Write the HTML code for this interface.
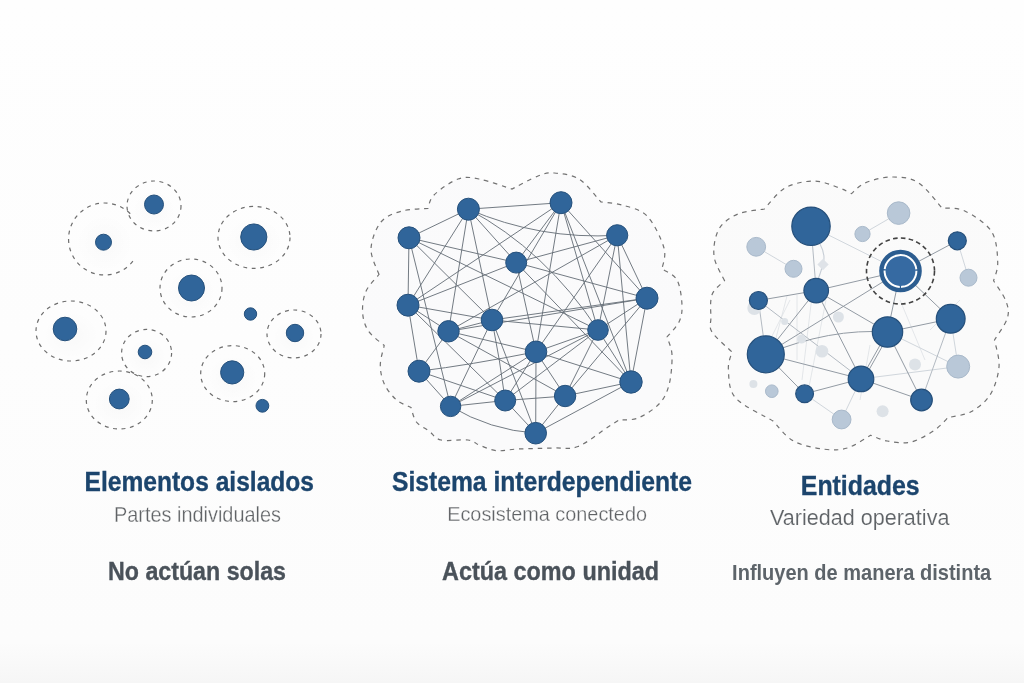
<!DOCTYPE html>
<html><head><meta charset="utf-8"><title>Sistema interdependiente</title>
<style>
html,body{margin:0;padding:0;width:1024px;height:683px;overflow:hidden;background:#fcfcfc;}
svg{display:block;font-family:"Liberation Sans",sans-serif;will-change:transform;}
</style></head><body>
<svg width="1024" height="683" viewBox="0 0 1024 683">
<defs>
<radialGradient id="sh" cx="50%" cy="50%" r="50%"><stop offset="0" stop-color="#000" stop-opacity="0.018"/><stop offset="1" stop-color="#000" stop-opacity="0"/></radialGradient>
<linearGradient id="bg" x1="0" y1="0" x2="0" y2="1"><stop offset="0" stop-color="#fefefe"/><stop offset="0.5" stop-color="#fdfdfd"/><stop offset="0.94" stop-color="#fcfcfc"/><stop offset="0.97" stop-color="#f9f9f9"/><stop offset="1" stop-color="#f6f6f6"/></linearGradient>
</defs>
<rect width="1024" height="683" fill="url(#bg)"/>
<ellipse cx="154.0" cy="210.0" rx="21.6" ry="20.0" fill="url(#sh)"/>
<ellipse cx="104.5" cy="243.0" rx="28.8" ry="28.8" fill="url(#sh)"/>
<ellipse cx="254.0" cy="241.4" rx="28.8" ry="24.8" fill="url(#sh)"/>
<ellipse cx="191.0" cy="292.0" rx="24.8" ry="23.2" fill="url(#sh)"/>
<ellipse cx="71.0" cy="335.0" rx="28.0" ry="24.0" fill="url(#sh)"/>
<ellipse cx="294.0" cy="338.0" rx="21.6" ry="19.2" fill="url(#sh)"/>
<ellipse cx="146.6" cy="357.0" rx="20.0" ry="18.9" fill="url(#sh)"/>
<ellipse cx="232.7" cy="377.6" rx="25.6" ry="22.4" fill="url(#sh)"/>
<ellipse cx="119.3" cy="404.0" rx="26.4" ry="23.2" fill="url(#sh)"/>
<g fill="none" stroke="#6e6e6e" stroke-width="1.2" stroke-dasharray="3.9 4.6">
<ellipse cx="154.0" cy="206.0" rx="27.0" ry="25.0"/>
<path d="M132.9,261.2 A36.0,36.0 0 1 1 132.9,216.8"/>
<ellipse cx="254.0" cy="237.4" rx="36.0" ry="31.0"/>
<ellipse cx="191.0" cy="288.0" rx="31.0" ry="29.0"/>
<ellipse cx="71.0" cy="331.0" rx="35.0" ry="30.0"/>
<ellipse cx="294.0" cy="334.0" rx="27.0" ry="24.0"/>
<ellipse cx="146.6" cy="353.0" rx="25.0" ry="23.6"/>
<ellipse cx="232.7" cy="373.6" rx="32.0" ry="28.0"/>
<ellipse cx="119.3" cy="400.0" rx="33.0" ry="29.0"/>
</g>
<circle cx="154.0" cy="204.5" r="9.5" fill="#30659a" stroke="#26517c" stroke-width="1.0"/>
<circle cx="103.5" cy="242.2" r="8.0" fill="#30659a" stroke="#26517c" stroke-width="1.0"/>
<circle cx="253.8" cy="237.0" r="13.1" fill="#30659a" stroke="#26517c" stroke-width="1.0"/>
<circle cx="191.5" cy="288.0" r="13.0" fill="#30659a" stroke="#26517c" stroke-width="1.0"/>
<circle cx="65.0" cy="329.0" r="11.8" fill="#30659a" stroke="#26517c" stroke-width="1.0"/>
<circle cx="250.5" cy="314.0" r="6.2" fill="#30659a" stroke="#26517c" stroke-width="1.0"/>
<circle cx="295.0" cy="333.0" r="8.7" fill="#30659a" stroke="#26517c" stroke-width="1.0"/>
<circle cx="145.0" cy="352.0" r="6.8" fill="#30659a" stroke="#26517c" stroke-width="1.0"/>
<circle cx="232.2" cy="372.4" r="11.6" fill="#30659a" stroke="#26517c" stroke-width="1.0"/>
<circle cx="119.3" cy="399.0" r="9.9" fill="#30659a" stroke="#26517c" stroke-width="1.0"/>
<circle cx="262.4" cy="405.8" r="6.4" fill="#30659a" stroke="#26517c" stroke-width="1.0"/>
<path d="M379.0,274.5 C377.7,270.2 370.7,257.8 371.0,249.0 C371.3,240.2 375.8,228.3 381.0,222.0 C386.2,215.7 394.2,213.2 402.0,211.0 C409.8,208.8 423.7,208.9 428.0,208.5 C429.0,206.2 429.0,199.9 434.0,195.0 C439.0,190.1 450.5,181.7 458.0,179.0 C465.5,176.3 470.0,177.3 479.0,179.0 C488.0,180.7 506.5,187.3 512.0,189.0 C516.3,186.8 531.0,178.7 538.0,176.0 C545.0,173.3 547.2,172.5 554.0,173.0 C560.8,173.5 571.2,174.2 579.0,179.0 C586.8,183.8 597.3,198.2 601.0,202.0 C604.5,202.5 614.3,202.7 622.0,205.0 C629.7,207.3 640.0,208.8 647.0,216.0 C654.0,223.2 661.5,239.2 664.0,248.0 C666.5,256.8 662.3,265.5 662.0,269.0 C664.5,270.8 673.7,274.0 677.0,280.0 C680.3,286.0 681.7,298.0 682.0,305.0 C682.3,312.0 681.5,316.7 679.0,322.0 C676.5,327.3 669.0,334.5 667.0,337.0 C667.8,340.0 671.7,347.0 672.0,355.0 C672.3,363.0 671.2,376.8 669.0,385.0 C666.8,393.2 664.2,398.5 659.0,404.0 C653.8,409.5 644.7,415.3 638.0,418.0 C631.3,420.7 622.2,419.7 619.0,420.0 C617.2,421.2 614.8,422.6 608.0,427.0 C601.2,431.4 587.2,443.0 578.0,446.5 C568.8,450.0 563.0,447.6 553.0,448.0 C543.0,448.4 527.5,448.6 518.0,449.0 C508.5,449.4 502.8,451.4 496.0,450.6 C489.2,449.8 480.2,445.1 477.0,444.0 C475.5,443.3 474.0,440.7 468.0,440.0 C462.0,439.3 447.5,441.5 441.0,440.0 C434.5,438.5 433.1,434.0 429.0,431.0 C424.9,428.0 419.4,425.9 416.4,422.0 C413.4,418.1 411.9,409.9 411.0,407.5 C408.5,406.2 400.5,403.5 396.0,399.5 C391.5,395.5 386.8,389.4 384.2,383.7 C381.6,377.9 380.3,371.4 380.3,365.0 C380.3,358.6 383.6,348.8 384.2,345.5 C381.6,343.1 372.0,336.5 368.4,331.0 C364.8,325.5 363.0,319.2 362.6,312.6 C362.2,306.0 363.1,298.0 365.8,291.6 C368.5,285.2 376.8,277.4 379.0,274.5Z" fill="#f4f5f6" fill-opacity="0.25" stroke="#727272" stroke-width="1.2" stroke-dasharray="4.5 4.8"/>
<g stroke="#636c75" stroke-width="0.9" fill="none">
<line x1="468.4" y1="209.2" x2="561.0" y2="202.7"/>
<line x1="468.4" y1="209.2" x2="409.0" y2="237.8"/>
<line x1="468.4" y1="209.2" x2="408.0" y2="305.2"/>
<line x1="468.4" y1="209.2" x2="448.5" y2="331.3"/>
<line x1="468.4" y1="209.2" x2="492.0" y2="320.0"/>
<line x1="468.4" y1="209.2" x2="516.2" y2="262.6"/>
<line x1="561.0" y1="202.7" x2="408.0" y2="305.2"/>
<line x1="561.0" y1="202.7" x2="516.2" y2="262.6"/>
<line x1="561.0" y1="202.7" x2="492.0" y2="320.0"/>
<line x1="561.0" y1="202.7" x2="536.0" y2="351.8"/>
<line x1="561.0" y1="202.7" x2="598.0" y2="330.0"/>
<line x1="561.0" y1="202.7" x2="631.0" y2="382.0"/>
<line x1="561.0" y1="202.7" x2="647.0" y2="298.2"/>
<line x1="409.0" y1="237.8" x2="516.2" y2="262.6"/>
<line x1="409.0" y1="237.8" x2="598.0" y2="330.0"/>
<line x1="409.0" y1="237.8" x2="492.0" y2="320.0"/>
<line x1="409.0" y1="237.8" x2="450.6" y2="406.4"/>
<line x1="409.0" y1="237.8" x2="408.0" y2="305.2"/>
<line x1="617.2" y1="235.3" x2="516.2" y2="262.6"/>
<line x1="617.2" y1="235.3" x2="448.5" y2="331.3"/>
<line x1="617.2" y1="235.3" x2="536.0" y2="351.8"/>
<line x1="617.2" y1="235.3" x2="598.0" y2="330.0"/>
<line x1="617.2" y1="235.3" x2="631.0" y2="382.0"/>
<line x1="617.2" y1="235.3" x2="647.0" y2="298.2"/>
<line x1="516.2" y1="262.6" x2="631.0" y2="382.0"/>
<line x1="516.2" y1="262.6" x2="647.0" y2="298.2"/>
<line x1="516.2" y1="262.6" x2="536.0" y2="351.8"/>
<line x1="408.0" y1="305.2" x2="492.0" y2="320.0"/>
<line x1="408.0" y1="305.2" x2="448.5" y2="331.3"/>
<line x1="408.0" y1="305.2" x2="419.0" y2="371.2"/>
<line x1="408.0" y1="305.2" x2="505.2" y2="400.5"/>
<line x1="408.0" y1="305.2" x2="516.2" y2="262.6"/>
<line x1="647.0" y1="298.2" x2="448.5" y2="331.3"/>
<line x1="647.0" y1="298.2" x2="598.0" y2="330.0"/>
<line x1="647.0" y1="298.2" x2="565.1" y2="396.0"/>
<line x1="647.0" y1="298.2" x2="631.0" y2="382.0"/>
<line x1="448.5" y1="331.3" x2="492.0" y2="320.0"/>
<line x1="448.5" y1="331.3" x2="536.0" y2="351.8"/>
<line x1="448.5" y1="331.3" x2="419.0" y2="371.2"/>
<line x1="448.5" y1="331.3" x2="565.1" y2="396.0"/>
<line x1="492.0" y1="320.0" x2="598.0" y2="330.0"/>
<line x1="492.0" y1="320.0" x2="647.0" y2="298.2"/>
<line x1="492.0" y1="320.0" x2="535.7" y2="433.2"/>
<line x1="492.0" y1="320.0" x2="450.6" y2="406.4"/>
<line x1="598.0" y1="330.0" x2="536.0" y2="351.8"/>
<line x1="598.0" y1="330.0" x2="450.6" y2="406.4"/>
<line x1="598.0" y1="330.0" x2="565.1" y2="396.0"/>
<line x1="598.0" y1="330.0" x2="505.2" y2="400.5"/>
<line x1="598.0" y1="330.0" x2="631.0" y2="382.0"/>
<line x1="536.0" y1="351.8" x2="450.6" y2="406.4"/>
<line x1="536.0" y1="351.8" x2="535.7" y2="433.2"/>
<line x1="536.0" y1="351.8" x2="565.1" y2="396.0"/>
<line x1="536.0" y1="351.8" x2="631.0" y2="382.0"/>
<line x1="419.0" y1="371.2" x2="505.2" y2="400.5"/>
<line x1="419.0" y1="371.2" x2="450.6" y2="406.4"/>
<line x1="450.6" y1="406.4" x2="505.2" y2="400.5"/>
<line x1="505.2" y1="400.5" x2="535.7" y2="433.2"/>
<line x1="505.2" y1="400.5" x2="565.1" y2="396.0"/>
<line x1="505.2" y1="400.5" x2="536.0" y2="351.8"/>
<line x1="565.1" y1="396.0" x2="535.7" y2="433.2"/>
<line x1="565.1" y1="396.0" x2="631.0" y2="382.0"/>
<line x1="631.0" y1="382.0" x2="535.7" y2="433.2"/>
<path d="M468.4,209.2 Q540.0,240.0 617.2,235.3"/>
<path d="M468.4,209.2 Q545.0,250.0 598.0,330.0"/>
<path d="M492.0,320.0 Q500.0,360.0 505.2,400.5"/>
<path d="M536.0,351.8 Q470.0,365.0 419.0,371.2"/>
<path d="M450.6,406.4 Q490.0,430.0 535.7,433.2"/>
</g>
<circle cx="468.4" cy="209.2" r="11.0" fill="#30659a" stroke="#26517c" stroke-width="1.0"/>
<circle cx="561.0" cy="202.7" r="11.0" fill="#30659a" stroke="#26517c" stroke-width="1.0"/>
<circle cx="409.0" cy="237.8" r="11.0" fill="#30659a" stroke="#26517c" stroke-width="1.0"/>
<circle cx="617.2" cy="235.3" r="10.6" fill="#30659a" stroke="#26517c" stroke-width="1.0"/>
<circle cx="516.2" cy="262.6" r="10.5" fill="#30659a" stroke="#26517c" stroke-width="1.0"/>
<circle cx="408.0" cy="305.2" r="11.0" fill="#30659a" stroke="#26517c" stroke-width="1.0"/>
<circle cx="647.0" cy="298.2" r="11.0" fill="#30659a" stroke="#26517c" stroke-width="1.0"/>
<circle cx="448.5" cy="331.3" r="10.7" fill="#30659a" stroke="#26517c" stroke-width="1.0"/>
<circle cx="492.0" cy="320.0" r="10.8" fill="#30659a" stroke="#26517c" stroke-width="1.0"/>
<circle cx="598.0" cy="330.0" r="10.3" fill="#30659a" stroke="#26517c" stroke-width="1.0"/>
<circle cx="536.0" cy="351.8" r="10.8" fill="#30659a" stroke="#26517c" stroke-width="1.0"/>
<circle cx="419.0" cy="371.2" r="11.0" fill="#30659a" stroke="#26517c" stroke-width="1.0"/>
<circle cx="631.0" cy="382.0" r="11.2" fill="#30659a" stroke="#26517c" stroke-width="1.0"/>
<circle cx="450.6" cy="406.4" r="10.2" fill="#30659a" stroke="#26517c" stroke-width="1.0"/>
<circle cx="505.2" cy="400.5" r="10.5" fill="#30659a" stroke="#26517c" stroke-width="1.0"/>
<circle cx="565.1" cy="396.0" r="10.7" fill="#30659a" stroke="#26517c" stroke-width="1.0"/>
<circle cx="535.7" cy="433.2" r="10.8" fill="#30659a" stroke="#26517c" stroke-width="1.0"/>
<path d="M724.5,280.6 C722.8,276.5 714.9,264.6 714.0,256.0 C713.1,247.4 715.0,236.0 719.0,229.0 C723.0,222.0 730.4,217.3 738.0,214.0 C745.6,210.7 760.0,209.8 764.4,209.0 C767.8,205.5 776.8,192.7 785.0,188.0 C793.2,183.3 804.8,181.1 813.6,181.0 C822.4,180.9 831.7,185.3 838.0,187.4 C844.3,189.5 849.2,192.6 851.5,193.6 C853.8,191.8 858.4,185.8 865.0,183.0 C871.6,180.2 882.2,177.1 891.0,177.0 C899.8,176.9 909.2,177.1 917.7,182.3 C926.2,187.5 938.0,203.7 942.0,208.0 C945.8,208.5 956.5,207.1 964.8,211.0 C973.0,214.9 986.0,223.0 991.5,231.5 C997.0,240.0 997.4,253.8 997.7,262.0 C998.1,270.2 994.3,277.6 993.6,280.7 C995.6,284.1 1003.6,294.8 1005.9,301.0 C1008.2,307.2 1009.3,311.5 1007.4,318.0 C1005.5,324.5 996.6,336.3 994.5,340.0 C995.2,344.5 999.8,357.8 999.0,367.0 C998.2,376.2 994.7,387.6 990.0,395.0 C985.3,402.4 978.0,407.9 971.0,411.7 C964.0,415.5 951.8,416.6 948.0,417.6 C945.7,419.8 940.2,426.4 934.0,430.5 C927.8,434.6 918.4,440.4 910.6,442.2 C902.8,443.9 893.8,442.2 887.2,441.0 C880.6,439.8 873.5,436.2 870.8,435.2 C866.9,437.3 855.1,445.7 847.3,448.0 C839.5,450.3 833.0,450.4 824.0,449.2 C815.0,448.0 801.9,445.7 793.4,441.0 C784.9,436.3 776.4,424.3 773.0,421.0 C766.8,417.1 742.9,406.4 735.5,397.8 C728.1,389.2 729.0,377.2 728.4,369.6 C727.8,362.0 731.4,354.9 732.0,352.0 C728.7,348.7 715.5,337.7 712.0,332.0 C708.5,326.3 710.9,324.2 710.9,318.0 C710.9,311.8 709.7,300.9 712.0,294.7 C714.3,288.5 722.4,283.0 724.5,280.6Z" fill="#f4f5f6" fill-opacity="0.3" stroke="#727272" stroke-width="1.2" stroke-dasharray="4.5 4.8"/>
<g stroke="#dde1e5" stroke-width="0.8">
<line x1="787" y1="296" x2="776" y2="338"/>
<line x1="797" y1="295" x2="797" y2="360"/>
<line x1="812" y1="296" x2="802" y2="380"/>
<line x1="826" y1="300" x2="808" y2="392"/>
<line x1="770" y1="340" x2="790" y2="300"/>
<line x1="900" y1="300" x2="925" y2="360"/>
<line x1="930" y1="330" x2="960" y2="300"/>
<line x1="870" y1="345" x2="860" y2="400"/>
</g>
<g stroke="#d0d6dc" stroke-width="1.00" fill="none">
<line x1="811.0" y1="226.3" x2="900.5" y2="271.0"/>
<line x1="756.2" y1="246.8" x2="793.5" y2="268.8"/>
<line x1="898.6" y1="213.1" x2="862.5" y2="234.0"/>
<line x1="957.3" y1="240.8" x2="968.5" y2="277.7"/>
<line x1="804.6" y1="393.8" x2="841.6" y2="419.5"/>
<line x1="841.6" y1="419.5" x2="861.0" y2="378.9"/>
<line x1="887.5" y1="332.0" x2="958.2" y2="366.6"/>
<line x1="861.0" y1="378.9" x2="958.2" y2="366.6"/>
<line x1="950.7" y1="318.8" x2="958.2" y2="366.6"/>
</g>
<g stroke="#b3bac2" stroke-width="1.00" fill="none">
<line x1="811.0" y1="226.3" x2="816.2" y2="290.6"/>
<line x1="758.4" y1="300.5" x2="765.8" y2="354.3"/>
<line x1="758.4" y1="300.5" x2="861.0" y2="378.9"/>
<line x1="950.7" y1="318.8" x2="921.5" y2="400.0"/>
</g>
<g stroke="#939ba4" stroke-width="1.00" fill="none">
<line x1="816.2" y1="290.6" x2="758.4" y2="300.5"/>
<line x1="816.2" y1="290.6" x2="900.5" y2="271.0"/>
<line x1="765.8" y1="354.3" x2="900.5" y2="271.0"/>
<line x1="900.5" y1="271.0" x2="887.5" y2="332.0"/>
<line x1="900.5" y1="271.0" x2="950.7" y2="318.8"/>
<line x1="900.5" y1="271.0" x2="957.3" y2="240.8"/>
<line x1="816.2" y1="290.6" x2="765.8" y2="354.3"/>
<line x1="816.2" y1="290.6" x2="861.0" y2="378.9"/>
<line x1="816.2" y1="290.6" x2="887.5" y2="332.0"/>
<line x1="765.8" y1="354.3" x2="804.6" y2="393.8"/>
<line x1="765.8" y1="354.3" x2="861.0" y2="378.9"/>
<line x1="804.6" y1="393.8" x2="861.0" y2="378.9"/>
<line x1="887.5" y1="332.0" x2="950.7" y2="318.8"/>
<line x1="887.5" y1="332.0" x2="861.0" y2="378.9"/>
<line x1="887.5" y1="332.0" x2="921.5" y2="400.0"/>
<line x1="861.0" y1="378.9" x2="921.5" y2="400.0"/>
</g>
<line x1="863.2" y1="380.1" x2="889.7" y2="333.2" stroke="#939ba4" stroke-width="1.0"/>
<path d="M765.8,354.3 Q830,328 887.5,332.0" fill="none" stroke="#939ba4" stroke-width="1.0"/>
<path d="M820,244 Q826,255 823,264 Q820,275 818,279" fill="none" stroke="#c7ced6" stroke-width="1.1"/>
<rect x="819" y="260.5" width="8" height="8" fill="#dfe3e8" transform="rotate(45 823 264.5)"/>
<circle cx="754.3" cy="308.0" r="7.0" fill="#dde2e7"/>
<circle cx="753.4" cy="384.0" r="4.0" fill="#dde2e7"/>
<circle cx="822.0" cy="351.2" r="6.3" fill="#dde2e7"/>
<circle cx="838.4" cy="317.0" r="5.5" fill="#dde2e7"/>
<circle cx="801.5" cy="339.0" r="4.5" fill="#dde2e7"/>
<circle cx="784.7" cy="321.5" r="3.5" fill="#dde2e7"/>
<circle cx="915.0" cy="364.5" r="6.0" fill="#dde2e7"/>
<circle cx="882.6" cy="411.3" r="6.0" fill="#dde2e7"/>
<circle cx="756.2" cy="246.8" r="9.4" fill="#b9c8d8" stroke="#a9b9ca" stroke-width="1.0"/>
<circle cx="793.5" cy="268.8" r="8.5" fill="#b9c8d8" stroke="#a9b9ca" stroke-width="1.0"/>
<circle cx="862.5" cy="234.0" r="7.6" fill="#b9c8d8" stroke="#a9b9ca" stroke-width="1.0"/>
<circle cx="898.6" cy="213.1" r="11.3" fill="#b9c8d8" stroke="#a9b9ca" stroke-width="1.0"/>
<circle cx="968.5" cy="277.7" r="8.5" fill="#b9c8d8" stroke="#a9b9ca" stroke-width="1.0"/>
<circle cx="771.8" cy="391.2" r="6.3" fill="#b9c8d8" stroke="#a9b9ca" stroke-width="1.0"/>
<circle cx="841.6" cy="419.5" r="9.4" fill="#b9c8d8" stroke="#a9b9ca" stroke-width="1.0"/>
<circle cx="958.2" cy="366.6" r="11.5" fill="#b9c8d8" stroke="#a9b9ca" stroke-width="1.0"/>
<circle cx="811.0" cy="226.3" r="19.2" fill="#30659a" stroke="#26507b" stroke-width="1.2"/>
<circle cx="816.2" cy="290.6" r="12.3" fill="#30659a" stroke="#26507b" stroke-width="1.2"/>
<circle cx="758.4" cy="300.5" r="9.0" fill="#30659a" stroke="#26507b" stroke-width="1.2"/>
<circle cx="957.3" cy="240.8" r="9.0" fill="#30659a" stroke="#26507b" stroke-width="1.2"/>
<circle cx="765.8" cy="354.3" r="18.5" fill="#30659a" stroke="#26507b" stroke-width="1.2"/>
<circle cx="804.6" cy="393.8" r="8.9" fill="#30659a" stroke="#26507b" stroke-width="1.2"/>
<circle cx="861.0" cy="378.9" r="12.8" fill="#30659a" stroke="#26507b" stroke-width="1.2"/>
<circle cx="887.5" cy="332.0" r="15.2" fill="#30659a" stroke="#26507b" stroke-width="1.2"/>
<circle cx="950.7" cy="318.8" r="14.4" fill="#30659a" stroke="#26507b" stroke-width="1.2"/>
<circle cx="921.5" cy="400.0" r="10.8" fill="#30659a" stroke="#26507b" stroke-width="1.2"/>
<circle cx="900.5" cy="271.0" r="21.3" fill="#2c5d90"/>
<circle cx="900.5" cy="271.0" r="15.3" fill="#366aa2"/>
<circle cx="900.5" cy="271.0" r="15.9" fill="none" stroke="#ffffff" stroke-width="2.0" stroke-dasharray="24.6 1.3" transform="rotate(-95 900.5 271.0)"/>
<ellipse cx="900.5" cy="271.0" rx="34" ry="33" fill="none" stroke="#424242" stroke-width="1.6" stroke-dasharray="4.6 3.3"/>
<text x="84.5" y="490.9" font-size="27.5" font-weight="700" fill="#1c456d" stroke="#1c456d" stroke-width="0.35" textLength="229.5" lengthAdjust="spacingAndGlyphs">Elementos aislados</text>
<text x="114.0" y="521.9" font-size="21.2" font-weight="400" fill="#606366" stroke="#fcfcfc" stroke-width="0.30" textLength="167.0" lengthAdjust="spacingAndGlyphs">Partes individuales</text>
<text x="108.0" y="580.4" font-size="26.0" font-weight="700" fill="#4a525a" stroke="#4a525a" stroke-width="0.35" textLength="178.0" lengthAdjust="spacingAndGlyphs">No actúan solas</text>
<text x="392.0" y="490.9" font-size="27.5" font-weight="700" fill="#1c456d" stroke="#1c456d" stroke-width="0.35" textLength="300.0" lengthAdjust="spacingAndGlyphs">Sistema interdependiente</text>
<text x="447.2" y="521.1" font-size="21.0" font-weight="400" fill="#606366" stroke="#fcfcfc" stroke-width="0.30" textLength="199.8" lengthAdjust="spacingAndGlyphs">Ecosistema conectedo</text>
<text x="442.1" y="580.1" font-size="25.6" font-weight="700" fill="#4a525a" stroke="#4a525a" stroke-width="0.35" textLength="216.9" lengthAdjust="spacingAndGlyphs">Actúa como unidad</text>
<text x="800.8" y="494.7" font-size="27.9" font-weight="700" fill="#1c456d" stroke="#1c456d" stroke-width="0.35" textLength="118.8" lengthAdjust="spacingAndGlyphs">Entidades</text>
<text x="770.1" y="524.8" font-size="21.8" font-weight="400" fill="#5f6367" stroke="#fcfcfc" stroke-width="0.15" textLength="179.3" lengthAdjust="spacingAndGlyphs">Variedad operativa</text>
<text x="732.1" y="580.0" font-size="21.5" font-weight="700" fill="#5d646a" stroke="#5d646a" stroke-width="0.00" textLength="259.1" lengthAdjust="spacingAndGlyphs">Influyen de manera distinta</text>
</svg>
</body></html>
